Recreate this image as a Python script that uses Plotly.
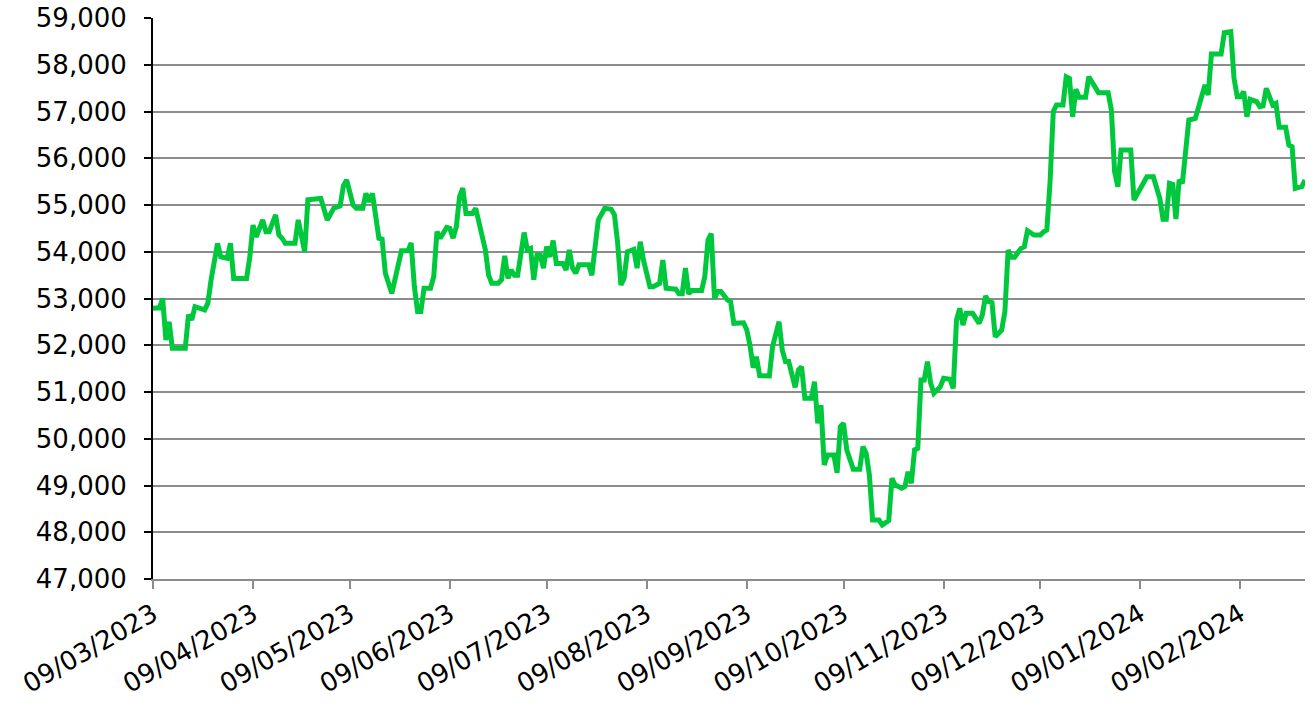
import pandas as pd
import plotly.graph_objects as go

start_date = "2023-03-09"
# day index (days since start_date) and value
day_index = [0, 2, 3, 4, 5, 6, 10, 11, 12, 13, 16, 17, 18, 20, 21, 23, 24, 25, 29, 30,
             31, 32, 34, 35, 36, 38, 39, 40, 41, 44, 45, 47, 48, 52, 54, 56, 58, 59, 60, 62,
             63, 65, 66, 67, 68, 70, 71, 72, 74, 76, 77, 79, 80, 81, 82, 83, 84, 86, 87, 88,
             89, 91, 92, 93, 94, 95, 96, 97, 99, 100, 102, 103, 104, 105, 107, 108, 109, 110, 111, 112,
             113, 115, 116, 117, 118, 119, 120, 121, 122, 123, 124, 125, 127, 128, 129, 130, 131, 132, 135, 136,
             137, 138, 140, 142, 143, 144, 145, 146, 147, 148, 149, 150, 151, 152, 154, 155, 157, 158, 159, 162,
             163, 164, 165, 166, 167, 170, 171, 172, 173, 174, 175, 176, 178, 179, 180, 183, 184, 185, 186, 187,
             188, 191, 192, 194, 195, 196, 197, 199, 200, 201, 202, 204, 205, 206, 207, 208, 209, 211, 212, 213,
             214, 215, 217, 219, 220, 221, 222, 223, 225, 226, 228, 229, 230, 232, 233, 234, 235, 236, 237, 238,
             239, 240, 241, 242, 244, 245, 247, 248, 249, 250, 251, 252, 254, 256, 257, 258, 259, 260, 261, 263,
             264, 265, 266, 267, 269, 270, 271, 273, 275, 276, 277, 278, 279, 280, 282, 283, 284, 285, 286, 287,
             289, 290, 292, 293, 296, 297, 298, 299, 300, 303, 304, 306, 308, 310, 311, 312, 313, 314, 315, 316,
             317, 318, 319, 321, 323, 325, 326, 327, 328, 331, 332, 334, 335, 336, 337, 338, 339, 340, 342, 343,
             344, 345, 347, 348, 349, 351, 352, 353, 354, 356, 357]
price = [52790, 52800, 53000, 52110, 52500, 51935, 51935, 52650, 52540, 52825, 52755, 52900, 53400, 54180, 53890, 53860, 54180, 53430, 53430, 53890,
         54570, 54320, 54680, 54430, 54430, 54790, 54360, 54290, 54180, 54180, 54680, 54000, 55110, 55140, 54680, 54930, 54980, 55410, 55535, 55000,
         54930, 54930, 55250, 55070, 55250, 54290, 54270, 53540, 53110, 53680, 54020, 54020, 54190, 53250, 52720, 52720, 53220, 53220, 53470, 54430,
         54290, 54520, 54500, 54290, 54536, 55180, 55360, 54820, 54820, 54930, 54360, 54040, 53500, 53325, 53325, 53400, 53910, 53430, 53610, 53500,
         53500, 54410, 54040, 54070, 53400, 53930, 53930, 53650, 54110, 53890, 54240, 53750, 53750, 53610, 54040, 53650, 53540, 53720, 53720, 53500,
         54100, 54680, 54930, 54910, 54790, 54180, 53290, 53430, 54000, 54020, 54050, 53650, 54215, 53820, 53250, 53250, 53325, 53820, 53220, 53200,
         53100, 53100, 53650, 53100, 53170, 53170, 53470, 54250, 54390, 53000, 53150, 53150, 52970, 52930, 52470, 52480, 52330, 52000, 51520, 51755,
         51350, 51343, 51970, 52504, 51900, 51650, 51650, 51100, 51470, 51540, 50865, 50865, 51220, 50330, 50720, 49440, 49650, 49650, 49270, 50260,
         50330, 49760, 49350, 49350, 49830, 49690, 49225, 48260, 48260, 48155, 48250, 49154, 49011, 48940, 48975, 49296, 49047, 49760, 49795, 51257,
         51257, 51648, 51186, 50972, 51114, 51293, 51271, 51079, 52540, 52790, 52433, 52683, 52683, 52469, 52647, 53054, 52932, 52911, 52183, 52327,
         52718, 54037, 53881, 53881, 54073, 54108, 54450, 54358, 54358, 54429, 54465, 55500, 57000, 57140, 57140, 57744, 57710, 56889, 57475, 57304,
         57304, 57744, 57496, 57403, 57403, 57032, 55712, 55392, 56176, 56176, 55107, 55357, 55606, 55606, 55321, 55143, 54694, 54694, 55464, 55440,
         54700, 55535, 55464, 56818, 56854, 57317, 57567, 57354, 58230, 58230, 58686, 58707, 57710, 57317, 57317, 57424, 56889, 57261, 57211, 57104,
         57118, 57496, 57139, 57175, 56662, 56662, 56283, 56248, 55357, 55392, 55535]

tick_dates = ["2023-03-09", "2023-04-09", "2023-05-09", "2023-06-09", "2023-07-09", "2023-08-09",
              "2023-09-09", "2023-10-09", "2023-11-09", "2023-12-09", "2024-01-09", "2024-02-09"]
tick_labels = ["09/03/2023", "09/04/2023", "09/05/2023", "09/06/2023", "09/07/2023", "09/08/2023",
               "09/09/2023", "09/10/2023", "09/11/2023", "09/12/2023", "09/01/2024", "09/02/2024"]
y_ticks = list(range(47000, 59001, 1000))

dates = pd.Timestamp(start_date) + pd.to_timedelta(day_index, unit="D")

fig = go.Figure()
fig.add_trace(go.Scatter(x=dates, y=price, mode="lines",
                         line=dict(color="#00c83c", width=5), hoverinfo="x+y"))

font = dict(family="Verdana, DejaVu Sans, sans-serif", size=26, color="#000000")
fig.update_layout(
    width=1312, height=705,
    margin=dict(l=153, r=7, t=18, b=126, autoexpand=False),
    paper_bgcolor="white", plot_bgcolor="white",
    showlegend=False, font=font,
)
fig.update_xaxes(
    type="date", range=["2023-03-09", "2024-02-29"],
    tickmode="array", tickvals=tick_dates, ticktext=tick_labels, tickangle=-30,
    showgrid=False, zeroline=False,
    showline=True, linecolor="#8c8c8c", linewidth=2,
    ticks="outside", ticklen=8, tickwidth=2, tickcolor="#8c8c8c",
    tickfont=font, automargin=False,
)
fig.update_yaxes(
    range=[47000, 59000], tickmode="array", tickvals=y_ticks,
    tickformat=",", showgrid=True, gridcolor="#8c8c8c", gridwidth=2,
    zeroline=False, showline=True, linecolor="#000000", linewidth=2,
    ticks="outside", ticklen=7, tickwidth=2, tickcolor="#000000",
    ticklabelstandoff=12,
    tickfont=font, automargin=False,
)
fig.write_html("out.html", config={"displayModeBar": False},
               post_script="document.body.style.margin='0';")
